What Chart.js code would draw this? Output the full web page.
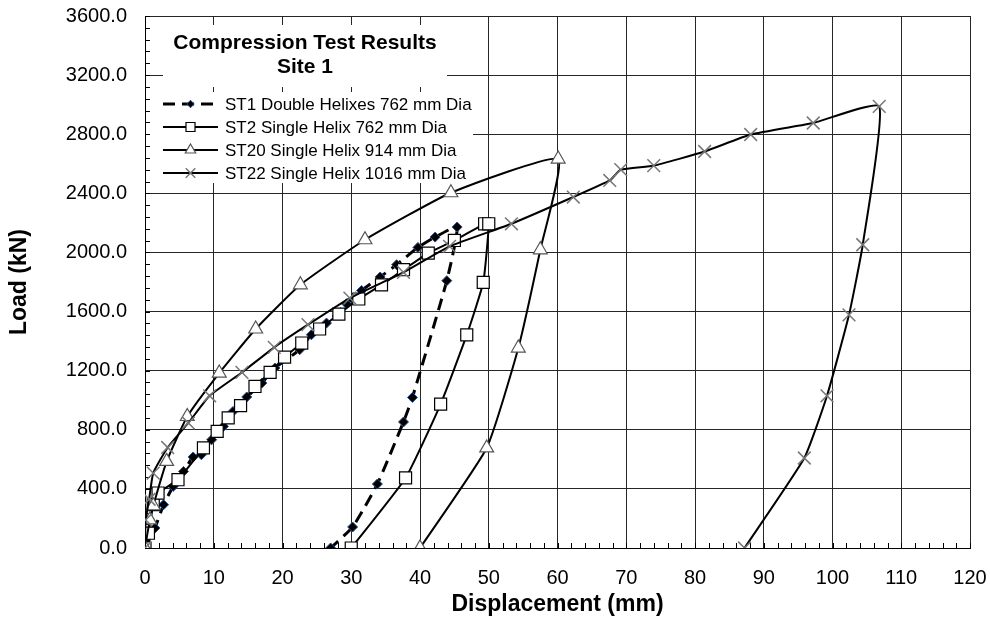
<!DOCTYPE html>
<html>
<head>
<meta charset="utf-8">
<script src="https://cdn.jsdelivr.net/npm/chart.js@4/dist/chart.umd.min.js"></script>
<style>
  body { margin: 0; background: #fff; }
  canvas { display: block; }
</style>
</head>
<body>
<canvas id="chart" width="990" height="625"></canvas>
<script>
// values (displacement in mm, load in kN)
const st1Disp = [0, 1.45, 2.7, 4.1, 5.6, 7.0, 8.2, 9.7, 11.4, 12.8, 14.8, 17.0, 18.9, 22.5, 24.2, 26.4, 29.3, 31.5, 34.2, 36.6, 39.7, 42.2, 45.4, 43.9, 38.9, 37.6, 33.8, 30.2, 27.0];
const st1Load = [0, 135, 293, 417, 518, 616, 631, 733, 823, 924, 1022, 1116, 1218, 1342, 1443, 1522, 1653, 1743, 1834, 1917, 2034, 2104, 2172, 1809, 1019, 853, 433, 142, 0];

const st2Disp = [0, 0.5, 1.2, 1.9, 4.8, 8.5, 10.5, 12.1, 13.9, 16.0, 18.2, 20.3, 22.8, 25.4, 28.2, 31.1, 34.4, 37.6, 41.2, 45.0, 49.4, 50.0, 49.2, 46.8, 43.0, 37.9, 30.0];
const st2Load = [0, 100, 293, 372, 462, 677, 789, 880, 963, 1093, 1188, 1292, 1387, 1482, 1583, 1685, 1781, 1883, 1996, 2081, 2194, 2194, 1798, 1442, 974, 474, 0];

const st20Disp = [0, 0.7, 1.2, 3.15, 6.15, 10.8, 16.1, 22.6, 32.0, 44.5, 60.1, 57.5, 54.3, 49.7, 40.0];
const st20Load = [0, 190, 286, 586, 890, 1184, 1482, 1781, 2086, 2404, 2632, 2018, 1353, 677, 0];

const st22Disp = [0, 0.1, 0.6, 1.2, 3.3, 6.3, 9.4, 14.1, 18.8, 23.7, 29.8, 37.6, 44.3, 53.3, 62.3, 67.6, 69.2, 74.0, 81.4, 88.1, 97.2, 106.8, 104.4, 102.4, 99.2, 95.9, 87.2];
const st22Load = [0, 190, 330, 507, 680, 846, 1030, 1188, 1358, 1511, 1691, 1865, 2041, 2194, 2375, 2487, 2560, 2587, 2683, 2798, 2876, 2988, 2052, 1578, 1030, 609, 0];

const seriesNames = [
  'ST1 Double Helixes 762 mm Dia',
  'ST2 Single Helix 762 mm Dia',
  'ST20 Single Helix 914 mm Dia',
  'ST22 Single Helix 1016 mm Dia'
];
const chartTitle = ['Compression Test Results', 'Site 1'];
const xTitle = 'Displacement (mm)';
const yTitle = 'Load (kN)';

const FONT = "'Liberation Sans', Arial, sans-serif";

const toPoints = (xs, ys) => xs.map((x, i) => ({ x: x, y: ys[i] }));

// title box + legend box drawn over the grid, like the Excel original
const boxes = {
  id: 'boxes',
  beforeDatasetsDraw(chart) {
    const ctx = chart.ctx;
    ctx.save();
    ctx.fillStyle = '#fff';
    ctx.fillRect(163, 25, 284, 62);
    ctx.fillRect(150, 92, 323, 91);

    ctx.fillStyle = '#000';
    ctx.textAlign = 'center';
    ctx.textBaseline = 'middle';
    ctx.font = 'bold 21px ' + FONT;
    ctx.fillText(chartTitle[0], 305, 43);
    ctx.fillText(chartTitle[1], 305, 67);

    ctx.textAlign = 'left';
    ctx.font = '17px ' + FONT;
    chart.data.datasets.forEach((ds, i) => {
      const y = 104 + i * 23;
      ctx.save();
      ctx.strokeStyle = ds.borderColor;
      ctx.lineWidth = ds.borderWidth;
      ctx.setLineDash(ds.borderDash || []);
      ctx.beginPath();
      ctx.moveTo(163, y);
      ctx.lineTo(218, y);
      ctx.stroke();
      ctx.setLineDash([]);
      ctx.fillStyle = ds.pointBackgroundColor;
      ctx.strokeStyle = ds.pointBorderColor;
      ctx.lineWidth = ds.pointBorderWidth;
      Chart.helpers.drawPoint(ctx, {
        pointStyle: ds.pointStyle,
        radius: ds.pointRadius * 0.75,
        rotation: 0,
        borderWidth: ds.pointBorderWidth
      }, 190.5, y);
      ctx.restore();
      ctx.fillStyle = '#000';
      ctx.fillText(ds.label, 225, y + 1);
    });
    ctx.restore();
  }
};

// small inside tick marks along both axes
const minorTicks = {
  id: 'minorTicks',
  beforeDatasetsDraw(chart) {
    const { ctx, chartArea: a, scales } = chart;
    ctx.save();
    ctx.strokeStyle = '#000';
    ctx.lineWidth = 1;
    ctx.beginPath();
    for (let v = 0; v <= 120; v += 2) {
      const px = Math.round(scales.x.getPixelForValue(v)) + 0.5;
      ctx.moveTo(px, a.bottom);
      ctx.lineTo(px, a.bottom - 5);
    }
    for (let v = 0; v <= 3600; v += 80) {
      const py = Math.round(scales.y.getPixelForValue(v)) + 0.5;
      ctx.moveTo(a.left, py);
      ctx.lineTo(a.left + 5, py);
    }
    ctx.stroke();
    ctx.restore();
  }
};

const ctx = document.getElementById('chart').getContext('2d');
new Chart(ctx, {
  type: 'scatter',
  data: {
    datasets: [
      {
        label: seriesNames[0],
        data: toPoints(st1Disp, st1Load),
        showLine: true,
        borderColor: '#000',
        borderWidth: 3,
        borderDash: [12, 7],
        tension: 0.15,
        pointStyle: 'rectRot',
        pointRadius: 5,
        pointBackgroundColor: '#000',
        pointBorderColor: '#2a4f8a',
        pointBorderWidth: 1,
        order: 4
      },
      {
        label: seriesNames[1],
        data: toPoints(st2Disp, st2Load),
        showLine: true,
        borderColor: '#000',
        borderWidth: 2,
        tension: 0.15,
        pointStyle: 'rect',
        pointRadius: 8.5,
        pointBackgroundColor: '#fff',
        pointBorderColor: '#000',
        pointBorderWidth: 1.2,
        order: 3
      },
      {
        label: seriesNames[2],
        data: toPoints(st20Disp, st20Load),
        showLine: true,
        borderColor: '#000',
        borderWidth: 2,
        tension: 0.15,
        pointStyle: 'triangle',
        pointRadius: 8,
        pointBackgroundColor: '#fff',
        pointBorderColor: '#555',
        pointBorderWidth: 1.2,
        order: 2
      },
      {
        label: seriesNames[3],
        data: toPoints(st22Disp, st22Load),
        showLine: true,
        borderColor: '#000',
        borderWidth: 2,
        tension: 0.15,
        pointStyle: 'crossRot',
        pointRadius: 9,
        pointBackgroundColor: '#777',
        pointBorderColor: '#777',
        pointBorderWidth: 1.5,
        order: 1
      }
    ]
  },
  options: {
    responsive: false,
    animation: false,
    layout: { padding: { top: 16, right: 20, left: 0, bottom: 0 } },
    plugins: {
      legend: { display: false },
      title: { display: false },
      tooltip: { enabled: false }
    },
    scales: {
      x: {
        type: 'linear',
        min: 0,
        max: 120,
        ticks: {
          stepSize: 10,
          padding: 18,
          color: '#000',
          font: { family: FONT, size: 20 }
        },
        grid: { color: '#262626', drawTicks: false },
        border: { color: '#000', width: 1 },
        title: {
          display: true,
          text: xTitle,
          color: '#000',
          font: { family: FONT, size: 23, weight: 'bold' },
          padding: { top: 0, bottom: 7 }
        },
        afterFit(scale) {
          scale.height = 77;
          scale.paddingLeft = 0;
          scale.paddingRight = 0;
        }
      },
      y: {
        min: 0,
        max: 3600,
        ticks: {
          stepSize: 400,
          padding: 18,
          color: '#000',
          font: { family: FONT, size: 20 },
          callback: (v) => v.toFixed(1)
        },
        grid: { color: '#262626', drawTicks: false },
        border: { color: '#000', width: 1 },
        title: {
          display: true,
          text: yTitle,
          color: '#000',
          font: { family: FONT, size: 23, weight: 'bold' },
          padding: { top: 6, bottom: 0 }
        },
        afterFit(scale) {
          scale.width = 145;
          scale.paddingTop = 0;
          scale.paddingBottom = 0;
        }
      }
    }
  },
  plugins: [minorTicks, boxes]
});
</script>
</body>
</html>
